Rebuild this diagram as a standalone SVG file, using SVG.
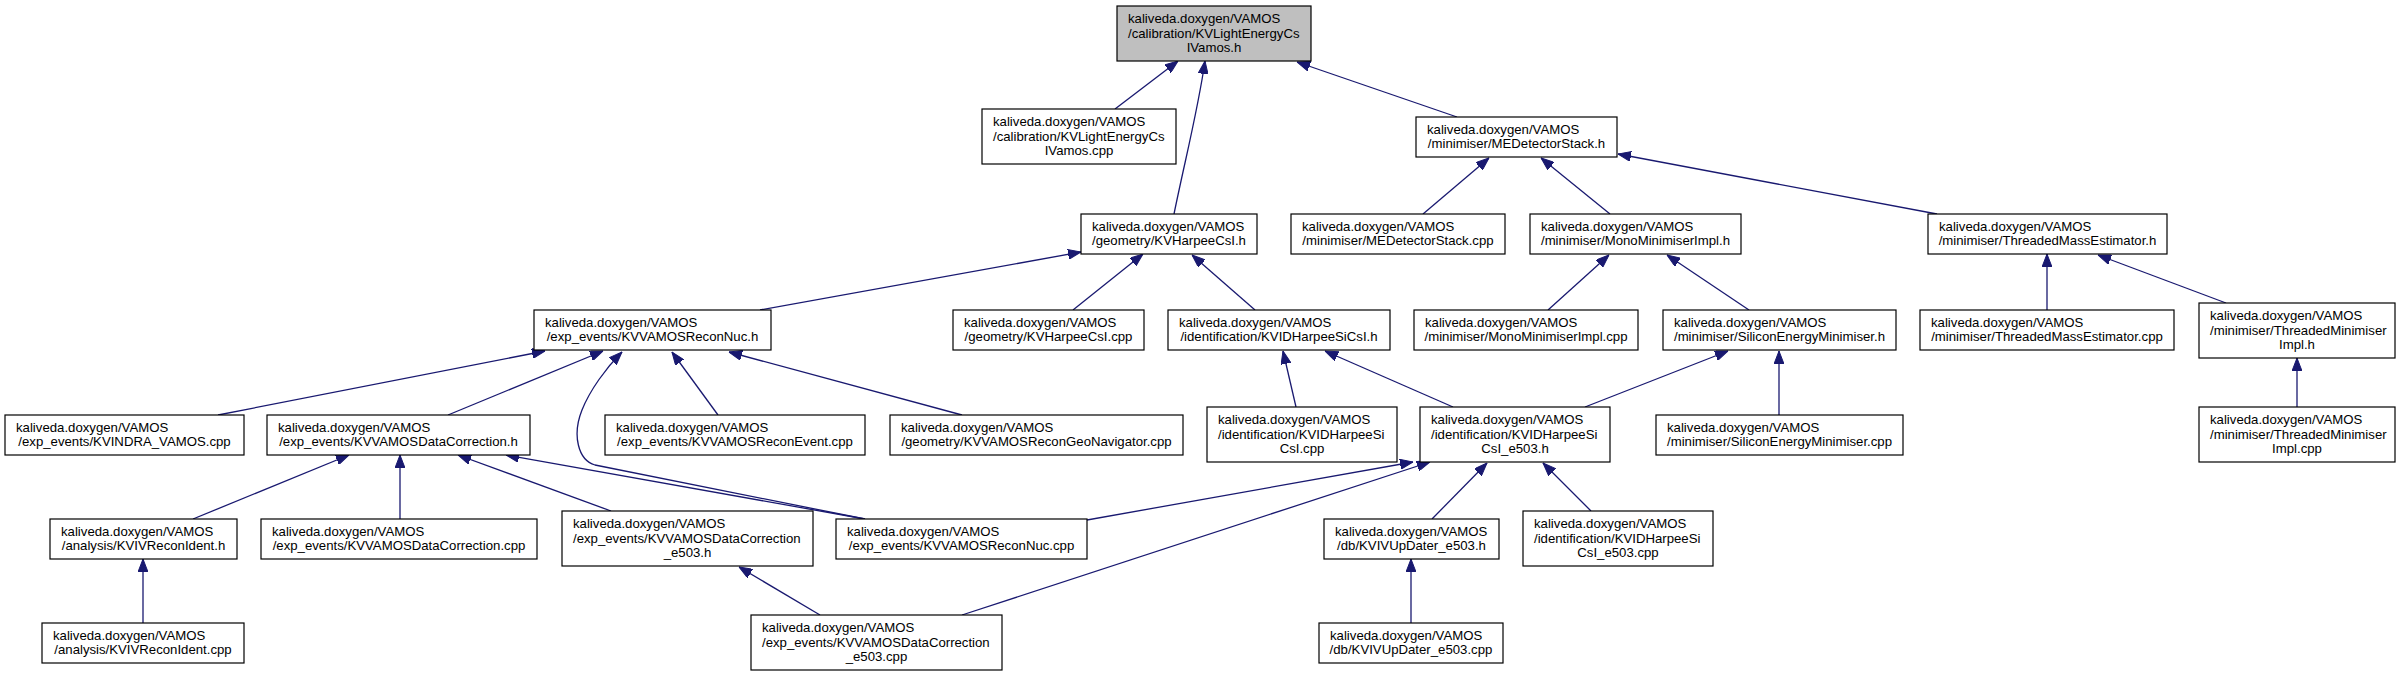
<svg xmlns="http://www.w3.org/2000/svg" width="2400" height="676" viewBox="0 0 2400 676">
<style>
.n rect{fill:#ffffff;stroke:#000000;stroke-width:1.2}
.n.root rect{fill:#bfbfbf}
.n text{font-family:"Liberation Sans",Arial,Helvetica,sans-serif;font-size:13.2px;fill:#000000}
.n text.c{text-anchor:middle}
.e path{fill:none;stroke:#191970;stroke-width:1.3;marker-end:url(#ah)}
</style>
<defs>
<marker id="ah" viewBox="0 0 13 10" refX="13" refY="5" markerWidth="13" markerHeight="10" markerUnits="userSpaceOnUse" orient="auto">
<path d="M0,0 L13,5 L0,10 z" fill="#191970" stroke="#191970" stroke-width="1"/>
</marker>
</defs>
<rect width="2400" height="676" fill="#ffffff"/>
<g id="edges" class="e">
<path d="M1115,109 L1178,61"/>
<path d="M1174,214 C1185,160 1198,110 1205,61"/>
<path d="M1457,117 L1297,62"/>
<path d="M1423,214 L1489,158"/>
<path d="M1610,214 L1541,158"/>
<path d="M1937,214 L1618,154"/>
<path d="M760,310 L1081,252"/>
<path d="M1073,310 L1143,254"/>
<path d="M1255,310 L1192,255"/>
<path d="M1548,310 L1609,255"/>
<path d="M1749,310 L1667,255"/>
<path d="M2047,310 L2047,254"/>
<path d="M2226,303 L2098,255"/>
<path d="M2297,407 L2297,358"/>
<path d="M218,415 L545,351"/>
<path d="M448,415 L603,351"/>
<path d="M865,519 L595,465 C578,460 572,435 582,410 C590,390 606,368 622,352"/>
<path d="M718,415 L672,352"/>
<path d="M962,415 L729,352"/>
<path d="M193,519 L349,455"/>
<path d="M400,519 L400,455"/>
<path d="M611,511 L458,455"/>
<path d="M865,519 L506,455"/>
<path d="M1296,407 L1283,351"/>
<path d="M1453,407 L1325,351"/>
<path d="M1585,407 L1728,351"/>
<path d="M1779,415 L1779,351"/>
<path d="M1087,520 L1413,462"/>
<path d="M962,615 L1430,462"/>
<path d="M1432,519 L1487,463"/>
<path d="M1591,511 L1543,463"/>
<path d="M143,623 L143,559"/>
<path d="M820,615 L739,567"/>
<path d="M1411,623 L1411,559"/>
</g>
<g id="n1" class="n root"><rect x="1117" y="6" width="194" height="55"/><text x="1128" y="23">kaliveda.doxygen/VAMOS</text><text x="1128" y="37.5">/calibration/KVLightEnergyCs</text><text class="c" x="1214" y="52">IVamos.h</text></g>
<g id="n2" class="n"><rect x="982" y="109" width="194" height="55"/><text x="993" y="126">kaliveda.doxygen/VAMOS</text><text x="993" y="140.5">/calibration/KVLightEnergyCs</text><text class="c" x="1079" y="155">IVamos.cpp</text></g>
<g id="n3" class="n"><rect x="1081" y="214" width="176" height="40"/><text x="1092" y="230.75">kaliveda.doxygen/VAMOS</text><text class="c" x="1169" y="245.25">/geometry/KVHarpeeCsI.h</text></g>
<g id="n4" class="n"><rect x="1416" y="117" width="201" height="40"/><text x="1427" y="133.75">kaliveda.doxygen/VAMOS</text><text class="c" x="1516.5" y="148.25">/minimiser/MEDetectorStack.h</text></g>
<g id="n5" class="n"><rect x="1291" y="214" width="214" height="40"/><text x="1302" y="230.75">kaliveda.doxygen/VAMOS</text><text class="c" x="1398" y="245.25">/minimiser/MEDetectorStack.cpp</text></g>
<g id="n6" class="n"><rect x="1530" y="214" width="211" height="40"/><text x="1541" y="230.75">kaliveda.doxygen/VAMOS</text><text class="c" x="1635.5" y="245.25">/minimiser/MonoMinimiserImpl.h</text></g>
<g id="n7" class="n"><rect x="1928" y="214" width="239" height="40"/><text x="1939" y="230.75">kaliveda.doxygen/VAMOS</text><text class="c" x="2047.5" y="245.25">/minimiser/ThreadedMassEstimator.h</text></g>
<g id="n8" class="n"><rect x="534" y="310" width="237" height="40"/><text x="545" y="326.75">kaliveda.doxygen/VAMOS</text><text class="c" x="652.5" y="341.25">/exp_events/KVVAMOSReconNuc.h</text></g>
<g id="n9" class="n"><rect x="953" y="310" width="191" height="40"/><text x="964" y="326.75">kaliveda.doxygen/VAMOS</text><text class="c" x="1048.5" y="341.25">/geometry/KVHarpeeCsI.cpp</text></g>
<g id="n10" class="n"><rect x="1168" y="310" width="222" height="40"/><text x="1179" y="326.75">kaliveda.doxygen/VAMOS</text><text class="c" x="1279" y="341.25">/identification/KVIDHarpeeSiCsI.h</text></g>
<g id="n11" class="n"><rect x="1414" y="310" width="224" height="40"/><text x="1425" y="326.75">kaliveda.doxygen/VAMOS</text><text class="c" x="1526" y="341.25">/minimiser/MonoMinimiserImpl.cpp</text></g>
<g id="n12" class="n"><rect x="1663" y="310" width="233" height="40"/><text x="1674" y="326.75">kaliveda.doxygen/VAMOS</text><text class="c" x="1779.5" y="341.25">/minimiser/SiliconEnergyMinimiser.h</text></g>
<g id="n13" class="n"><rect x="1920" y="310" width="254" height="40"/><text x="1931" y="326.75">kaliveda.doxygen/VAMOS</text><text class="c" x="2047" y="341.25">/minimiser/ThreadedMassEstimator.cpp</text></g>
<g id="n14" class="n"><rect x="2199" y="303" width="196" height="55"/><text x="2210" y="320">kaliveda.doxygen/VAMOS</text><text x="2210" y="334.5">/minimiser/ThreadedMinimiser</text><text class="c" x="2297" y="349">Impl.h</text></g>
<g id="n15" class="n"><rect x="2199" y="407" width="196" height="55"/><text x="2210" y="424">kaliveda.doxygen/VAMOS</text><text x="2210" y="438.5">/minimiser/ThreadedMinimiser</text><text class="c" x="2297" y="453">Impl.cpp</text></g>
<g id="n16" class="n"><rect x="5" y="415" width="239" height="40"/><text x="16" y="431.75">kaliveda.doxygen/VAMOS</text><text class="c" x="124.5" y="446.25">/exp_events/KVINDRA_VAMOS.cpp</text></g>
<g id="n17" class="n"><rect x="267" y="415" width="263" height="40"/><text x="278" y="431.75">kaliveda.doxygen/VAMOS</text><text class="c" x="398.5" y="446.25">/exp_events/KVVAMOSDataCorrection.h</text></g>
<g id="n18" class="n"><rect x="605" y="415" width="260" height="40"/><text x="616" y="431.75">kaliveda.doxygen/VAMOS</text><text class="c" x="735" y="446.25">/exp_events/KVVAMOSReconEvent.cpp</text></g>
<g id="n19" class="n"><rect x="890" y="415" width="293" height="40"/><text x="901" y="431.75">kaliveda.doxygen/VAMOS</text><text class="c" x="1036.5" y="446.25">/geometry/KVVAMOSReconGeoNavigator.cpp</text></g>
<g id="n20" class="n"><rect x="1207" y="407" width="190" height="55"/><text x="1218" y="424">kaliveda.doxygen/VAMOS</text><text x="1218" y="438.5">/identification/KVIDHarpeeSi</text><text class="c" x="1302" y="453">CsI.cpp</text></g>
<g id="n21" class="n"><rect x="1420" y="407" width="190" height="55"/><text x="1431" y="424">kaliveda.doxygen/VAMOS</text><text x="1431" y="438.5">/identification/KVIDHarpeeSi</text><text class="c" x="1515" y="453">CsI_e503.h</text></g>
<g id="n22" class="n"><rect x="1656" y="415" width="247" height="40"/><text x="1667" y="431.75">kaliveda.doxygen/VAMOS</text><text class="c" x="1779.5" y="446.25">/minimiser/SiliconEnergyMinimiser.cpp</text></g>
<g id="n23" class="n"><rect x="50" y="519" width="187" height="40"/><text x="61" y="535.75">kaliveda.doxygen/VAMOS</text><text class="c" x="143.5" y="550.25">/analysis/KVIVReconIdent.h</text></g>
<g id="n24" class="n"><rect x="261" y="519" width="276" height="40"/><text x="272" y="535.75">kaliveda.doxygen/VAMOS</text><text class="c" x="399" y="550.25">/exp_events/KVVAMOSDataCorrection.cpp</text></g>
<g id="n25" class="n"><rect x="562" y="511" width="251" height="55"/><text x="573" y="528">kaliveda.doxygen/VAMOS</text><text x="573" y="542.5">/exp_events/KVVAMOSDataCorrection</text><text class="c" x="687.5" y="557">_e503.h</text></g>
<g id="n26" class="n"><rect x="836" y="519" width="251" height="40"/><text x="847" y="535.75">kaliveda.doxygen/VAMOS</text><text class="c" x="961.5" y="550.25">/exp_events/KVVAMOSReconNuc.cpp</text></g>
<g id="n27" class="n"><rect x="1324" y="519" width="175" height="40"/><text x="1335" y="535.75">kaliveda.doxygen/VAMOS</text><text class="c" x="1411.5" y="550.25">/db/KVIVUpDater_e503.h</text></g>
<g id="n28" class="n"><rect x="1523" y="511" width="190" height="55"/><text x="1534" y="528">kaliveda.doxygen/VAMOS</text><text x="1534" y="542.5">/identification/KVIDHarpeeSi</text><text class="c" x="1618" y="557">CsI_e503.cpp</text></g>
<g id="n29" class="n"><rect x="42" y="623" width="202" height="40"/><text x="53" y="639.75">kaliveda.doxygen/VAMOS</text><text class="c" x="143" y="654.25">/analysis/KVIVReconIdent.cpp</text></g>
<g id="n30" class="n"><rect x="751" y="615" width="251" height="55"/><text x="762" y="632">kaliveda.doxygen/VAMOS</text><text x="762" y="646.5">/exp_events/KVVAMOSDataCorrection</text><text class="c" x="876.5" y="661">_e503.cpp</text></g>
<g id="n31" class="n"><rect x="1319" y="623" width="184" height="40"/><text x="1330" y="639.75">kaliveda.doxygen/VAMOS</text><text class="c" x="1411" y="654.25">/db/KVIVUpDater_e503.cpp</text></g>
</svg>
